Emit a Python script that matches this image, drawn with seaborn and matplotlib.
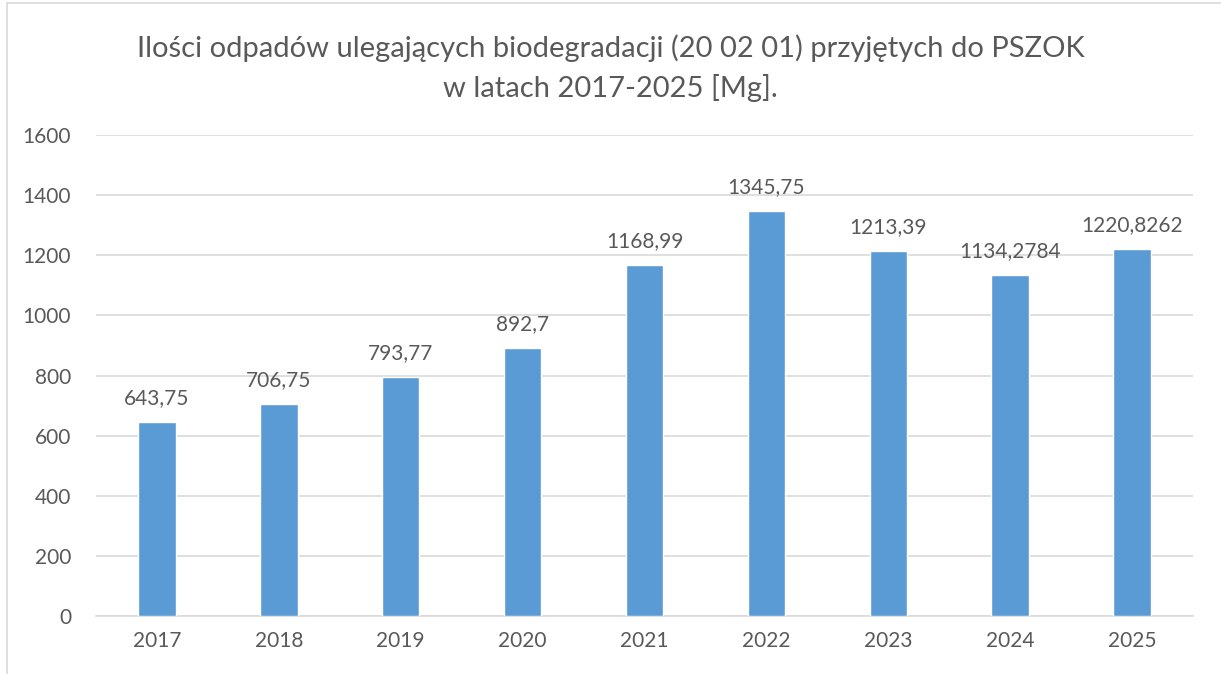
import matplotlib
matplotlib.use('Agg')
import matplotlib.pyplot as plt
import seaborn as sns
import pandas as pd

# values
years = ['2017', '2018', '2019', '2020', '2021', '2022', '2023', '2024', '2025']
amounts = [643.75, 706.75, 793.77, 892.7, 1168.99, 1345.75, 1213.39, 1134.2784, 1220.8262]
labels = ['643,75', '706,75', '793,77', '892,7', '1168,99', '1345,75', '1213,39', '1134,2784', '1220,8262']
yticks = [0, 200, 400, 600, 800, 1000, 1200, 1400, 1600]

df = pd.DataFrame({'rok': years, 'ilosc': amounts})

sns.set_style('white')
plt.rcParams['font.family'] = ['Lato', 'DejaVu Sans']
txt = '#595959'

fig = plt.figure(figsize=(12.21, 6.74), dpi=100)
ax = fig.add_axes([96 / 1221, 1 - 616 / 674, (1193 - 96) / 1221, (616 - 135) / 674])

sns.barplot(data=df, x='rok', y='ilosc', color='#5B9BD5', width=0.308, saturation=1, ax=ax, zorder=3)

ax.set_ylim(0, 1600)
ax.set_yticks(yticks)
ax.set_xlim(-0.5, len(years) - 0.5)
ax.yaxis.grid(True, color='#D9D9D9', linewidth=1.2, zorder=0)
ax.set_axisbelow(True)
for s in ['top', 'right', 'left']:
    ax.spines[s].set_visible(False)
ax.spines['bottom'].set_color('#D9D9D9')
ax.spines['bottom'].set_linewidth(1.2)
ax.tick_params(axis='both', length=0, labelsize=15, labelcolor=txt)
ax.tick_params(axis='x', pad=11)
ax.tick_params(axis='y', pad=18)
ax.set_xlabel('')
ax.set_ylabel('')

for i, (v, lab) in enumerate(zip(amounts, labels)):
    ax.annotate(lab, (i, v), xytext=(0, 10), textcoords='offset points',
                ha='center', va='bottom', fontsize=15, color=txt)

fig.text(0.5, 1 - 48 / 674, 'Ilości odpadów ulegających biodegradacji (20 02 01) przyjętych do PSZOK',
         ha='center', va='center', fontsize=21, color=txt)
fig.text(0.5, 1 - 88 / 674, 'w latach 2017-2025 [Mg].',
         ha='center', va='center', fontsize=21, color=txt)

# chart area border (cropped on the right and bottom)
fig.patches.append(plt.Rectangle((7 / 1221, -0.1), 1.2, 1 - 3 / 674 + 0.1,
                                 transform=fig.transFigure, fill=False,
                                 edgecolor='#D9D9D9', linewidth=1.2))

fig.savefig('out.png', dpi=100)
